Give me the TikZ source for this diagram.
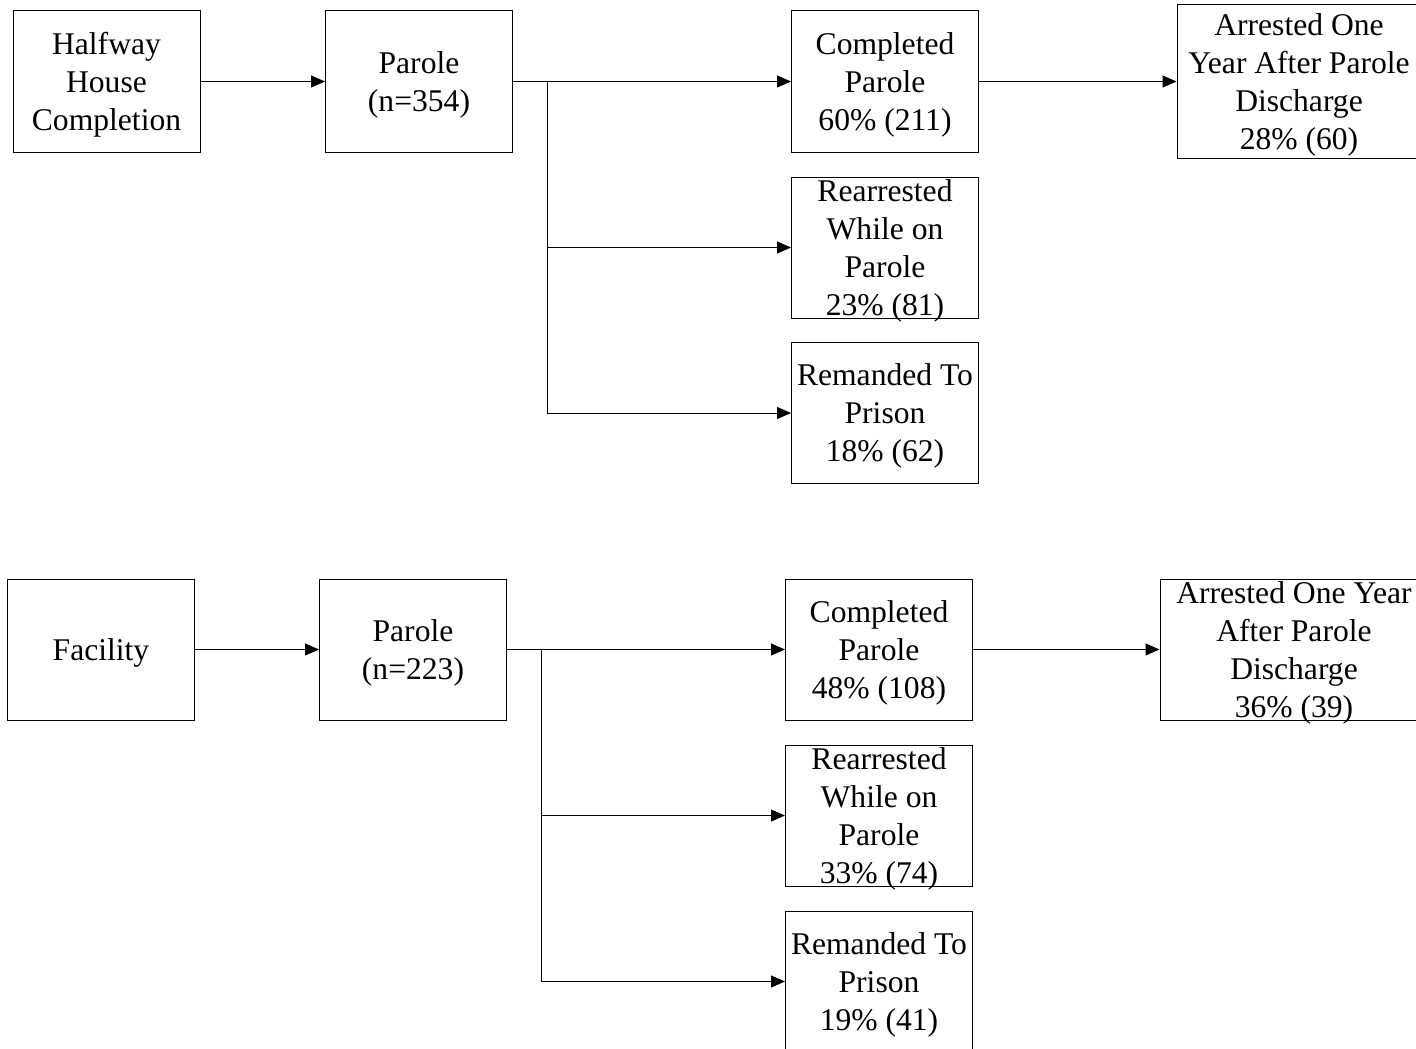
\documentclass[tikz,border=0pt]{standalone}
\usepackage{fontspec}
\setmainfont{Liberation Serif}
\usetikzlibrary{arrows.meta}
\begin{document}
\begin{tikzpicture}[x=1pt,y=-1pt,
  box/.style={draw=black, line width=1pt, inner sep=0pt, minimum width=187pt, minimum height=141pt},
  txt/.style={align=center, inner sep=0pt, text=black, yshift=-3pt, font=\fontsize{31.6}{38}\selectfont},
  arr/.style={line width=1pt, -{Triangle[length=14pt,width=12pt]}},
  ln/.style={line width=1pt}]
\useasboundingbox (0,0) rectangle (1416,1049);
% ---- top flow ----
\node[box, label={[txt]center:Halfway\\House\\Completion}] (h1) at (106.5,81.5) {};
\node[box, label={[txt]center:Parole\\(n=354)}] (p1) at (419,81.5) {};
\node[box, label={[txt]center:Completed\\Parole\\60\% (211)}] (c1) at (885,81.5) {};
\node[box, minimum width=244pt, minimum height=153pt, label={[txt]center:Arrested One\\Year After Parole\\Discharge\\28\% (60)}] (a1) at (1299,81.5) {};
\node[box, label={[txt]center:Rearrested\\While on\\Parole\\23\% (81)}] (r1) at (885,247.5) {};
\node[box, label={[txt]center:Remanded To\\Prison\\18\% (62)}] (m1) at (885,413) {};
\coordinate (b1) at (547,81.5);
\draw[arr] (h1) -- (p1);
\draw[ln] (p1.east) -- (b1);
\draw[arr] (b1) -- (c1.west);
\draw[arr] (b1) |- (r1.west);
\draw[arr] (b1) |- (m1.west);
\draw[arr] (c1) -- (a1);
% ---- bottom flow ----
\node[box, label={[txt]center:Facility}] (h2) at (101,649.5) {};
\node[box, label={[txt]center:Parole\\(n=223)}] (p2) at (413,649.5) {};
\node[box, label={[txt]center:Completed\\Parole\\48\% (108)}] (c2) at (879,649.5) {};
\node[box, minimum width=268pt, label={[txt]center:Arrested One Year\\After Parole\\Discharge\\36\% (39)}] (a2) at (1294,649.5) {};
\node[box, label={[txt]center:Rearrested\\While on\\Parole\\33\% (74)}] (r2) at (879,815.5) {};
\node[box, label={[txt]center:Remanded To\\Prison\\19\% (41)}] (m2) at (879,981.5) {};
\coordinate (b2) at (541,649.5);
\draw[arr] (h2) -- (p2);
\draw[ln] (p2.east) -- (b2);
\draw[arr] (b2) -- (c2.west);
\draw[arr] (b2) |- (r2.west);
\draw[arr] (b2) |- (m2.west);
\draw[arr] (c2) -- (a2);
\end{tikzpicture}
\end{document}
